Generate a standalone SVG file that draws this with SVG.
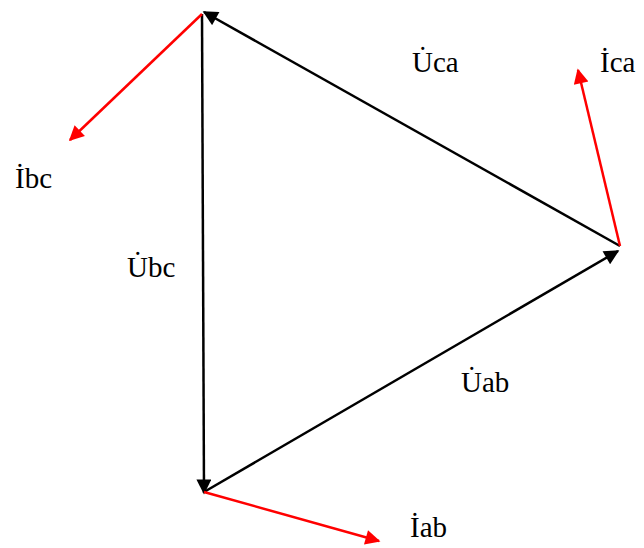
<svg xmlns="http://www.w3.org/2000/svg" width="644" height="548" viewBox="0 0 644 548">
<style>
.k{stroke:#000;stroke-width:2.5;fill:none}
.r{stroke:#ff0000;stroke-width:2.5;fill:none}
text{font-family:"Liberation Serif","Times New Roman",serif;font-size:29px;fill:#000}
</style>
<defs>
<marker id="ak" viewBox="0 0 10 10" refX="9" refY="5" markerWidth="7" markerHeight="6" markerUnits="strokeWidth" orient="auto"><path d="M0,0L10,5L0,10z" fill="#000"/></marker>
<marker id="ar" viewBox="0 0 10 10" refX="9" refY="5" markerWidth="7" markerHeight="6" markerUnits="strokeWidth" orient="auto"><path d="M0,0L10,5L0,10z" fill="#ff0000"/></marker>
</defs>
<g id="connectors">
<line id="Uca" class="k" x1="620" y1="246" x2="204" y2="12" marker-end="url(#ak)"/>
<line id="Ubc" class="k" x1="202" y1="14" x2="204" y2="493" marker-end="url(#ak)"/>
<line id="Uab" class="k" x1="204" y1="492" x2="618" y2="251" marker-end="url(#ak)"/>
<line id="Ibc" class="r" x1="202" y1="14" x2="70" y2="140" marker-end="url(#ar)"/>
<line id="Ica" class="r" x1="620" y1="246" x2="578" y2="70" marker-end="url(#ar)"/>
<line id="Iab" class="r" x1="204" y1="492" x2="379" y2="541" marker-end="url(#ar)"/>
</g>
<g id="labels">
<text x="412" y="72">U̇ca</text>
<text x="600" y="72">İca</text>
<text x="15" y="188">İbc</text>
<text x="127" y="277">U̇bc</text>
<text x="461" y="392">U̇ab</text>
<text x="410" y="537">İab</text>
</g>
</svg>
